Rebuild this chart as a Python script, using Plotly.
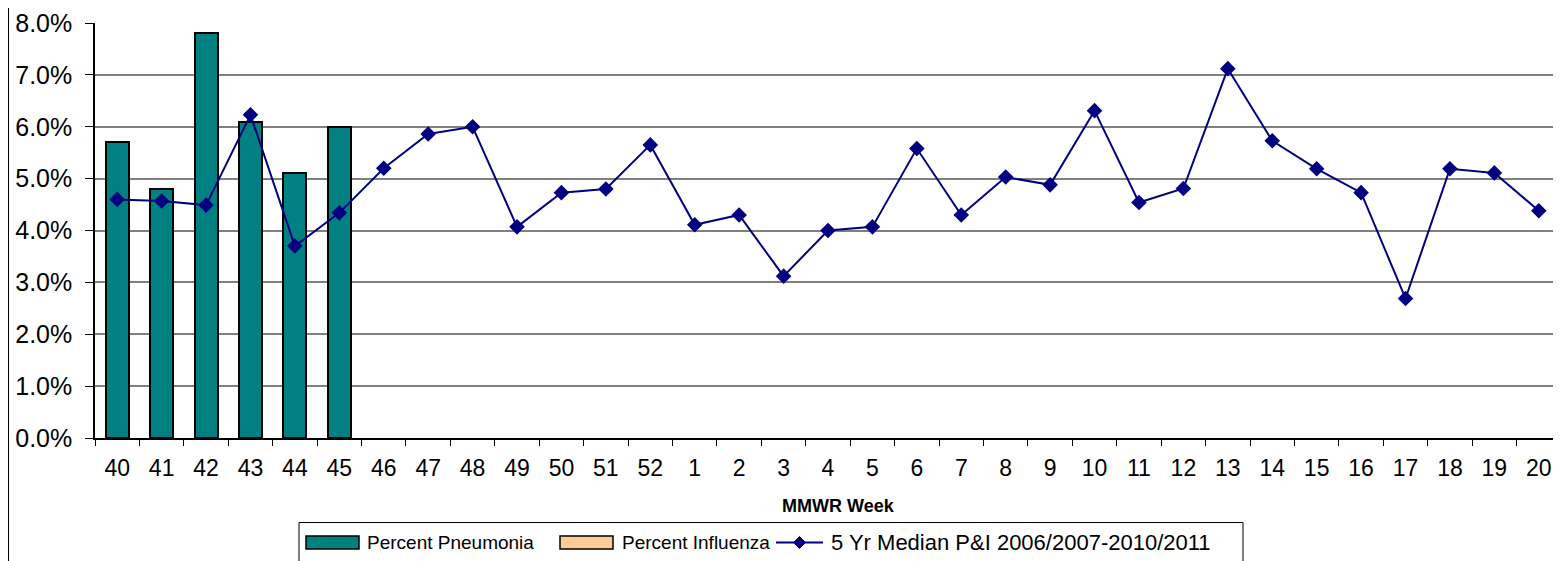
import plotly.graph_objects as go

weeks = ["40", "41", "42", "43", "44", "45", "46", "47", "48", "49", "50", "51", "52",
         "1", "2", "3", "4", "5", "6", "7", "8", "9", "10", "11", "12", "13", "14",
         "15", "16", "17", "18", "19", "20"]
pneumonia_weeks = ["40", "41", "42", "43", "44", "45"]
pct_pneumonia = [5.7, 4.8, 7.8, 6.1, 5.1, 6.0]
pct_influenza = [0.0, 0.0, 0.0, 0.0, 0.0, 0.0]
median_5yr = [4.60, 4.57, 4.49, 6.23, 3.70, 4.34, 5.20, 5.86, 6.00, 4.07, 4.73, 4.80, 5.65,
              4.11, 4.30, 3.12, 4.00, 4.07, 5.58, 4.30, 5.03, 4.88, 6.31, 4.54, 4.81, 7.12,
              5.73, 5.19, 4.73, 2.69, 5.19, 5.11, 4.38]
y_ticks = [0, 1, 2, 3, 4, 5, 6, 7, 8]

# page has an 8px body margin; work in page pixel coordinates
OFF = 8
PAGE_W, PAGE_H = 1561, 561
W, H = PAGE_W - OFF, PAGE_H - OFF
PL, PT, PR, PB = 95, 23, 1561, 438   # plot area in page pixels
L, T = PL - OFF, PT - OFF
R, B = PAGE_W - PR, PAGE_H - PB
PW, PH = PR - PL, PB - PT

def px(x):
    return (x - PL) / PW

def py(y):
    return (PB - y) / PH

TEAL = "#008080"
PEACH = "#FFCC99"
NAVY = "#000080"
FONT = "Liberation Sans, Arial, sans-serif"

fig = go.Figure()
fig.add_trace(go.Bar(x=pneumonia_weeks, y=pct_pneumonia, name="Percent Pneumonia",
                     marker=dict(color=TEAL, line=dict(color="black", width=2)),
                     showlegend=False))
fig.add_trace(go.Bar(x=pneumonia_weeks, y=pct_influenza, name="Percent Influenza",
                     marker=dict(color=PEACH, line=dict(color="black", width=2)),
                     showlegend=False))
fig.add_trace(go.Scatter(x=weeks, y=median_5yr, mode="lines+markers",
                         name="5 Yr Median P&I 2006/2007-2010/2011",
                         line=dict(color=NAVY, width=2),
                         marker=dict(symbol="diamond", size=12, color=NAVY),
                         showlegend=False))

shapes = []
annotations = []
# outer chart border (left edge)
shapes.append(dict(type="line", xref="paper", yref="paper",
                   x0=px(OFF + 0.5), x1=px(OFF + 0.5), y0=py(OFF), y1=py(PAGE_H),
                   line=dict(color="black", width=1)))
# legend box
shapes.append(dict(type="rect", xref="paper", yref="paper",
                   x0=px(299), x1=px(1243), y0=py(566), y1=py(522.5),
                   line=dict(color="black", width=1), fillcolor="white", layer="below"))
# swatches
shapes.append(dict(type="rect", xref="paper", yref="paper",
                   x0=px(306), x1=px(359), y0=py(549), y1=py(536),
                   line=dict(color="black", width=1.5), fillcolor=TEAL))
shapes.append(dict(type="rect", xref="paper", yref="paper",
                   x0=px(560), x1=px(613), y0=py(549), y1=py(536),
                   line=dict(color="black", width=1.5), fillcolor=PEACH))
shapes.append(dict(type="line", xref="paper", yref="paper",
                   x0=px(776), x1=px(823), y0=py(542.5), y1=py(542.5),
                   line=dict(color=NAVY, width=2)))
cx, cy, d = 799.5, 542.5, 6
shapes.append(dict(type="path", xref="paper", yref="paper",
                   path=f"M {px(cx)},{py(cy-d)} L {px(cx+d)},{py(cy)} L {px(cx)},{py(cy+d)} L {px(cx-d)},{py(cy)} Z",
                   fillcolor=NAVY, line=dict(color=NAVY, width=1)))

legend_texts = [("Percent Pneumonia", 365, 19), ("Percent Influenza", 620, 19),
                ("5 Yr Median P&I 2006/2007-2010/2011", 829, 22)]
for txt, x, fs in legend_texts:
    annotations.append(dict(text=txt, xref="paper", yref="paper", x=px(x), y=py(542),
                            xanchor="left", yanchor="middle", showarrow=False,
                            font=dict(family=FONT, size=fs, color="black")))
annotations.append(dict(text="<b>MMWR Week</b>", xref="paper", yref="paper",
                        x=px(838), y=py(506), xanchor="center", yanchor="middle",
                        showarrow=False, font=dict(family=FONT, size=18, color="black")))

fig.update_layout(
    width=W, height=H,
    margin=dict(l=L, r=R, t=T, b=B, pad=0),
    paper_bgcolor="white", plot_bgcolor="white",
    barmode="stack", bargap=0.48,
    font=dict(family=FONT, color="black"),
    shapes=shapes, annotations=annotations,
    showlegend=False,
)
fig.update_xaxes(type="category", categoryorder="array", categoryarray=weeks,
                 tickson="boundaries", ticks="outside", ticklen=6, tickcolor="black",
                 showline=True, linecolor="black", linewidth=1.5, showgrid=False,
                 tickfont=dict(family=FONT, size=23, color="black"),
                 ticklabelstandoff=9, range=[-0.5, len(weeks) - 0.5])
fig.update_yaxes(range=[0, 8], tickvals=y_ticks, ticktext=[f"{v:.1f}%" for v in y_ticks],
                 ticks="outside", ticklen=8, tickcolor="black",
                 showline=True, linecolor="black", linewidth=1.5,
                 showgrid=True, gridcolor="#808080", gridwidth=1.5, zeroline=False,
                 tickfont=dict(family=FONT, size=25, color="black"),
                 ticklabelstandoff=8)

fig.write_html("out.html")
